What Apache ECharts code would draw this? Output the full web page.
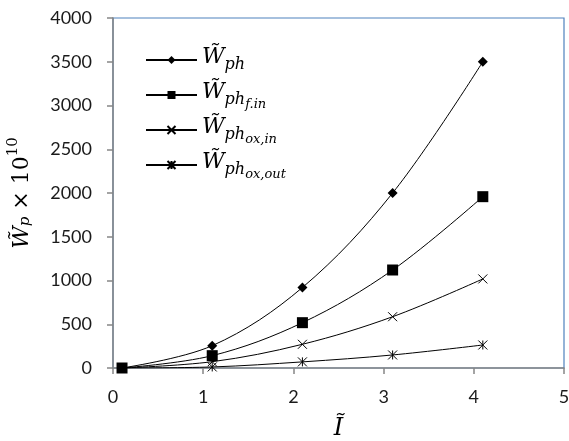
<!DOCTYPE html>
<html>
<head>
<meta charset="utf-8">
<script src="https://cdn.jsdelivr.net/npm/echarts@6/dist/echarts.min.js"></script>
<style>html,body{margin:0;padding:0;background:#fff}#c{width:569px;height:441px}</style>
</head>
<body>
<div id="c"></div>
<script>
const xValues = [0.1, 1.1, 2.1, 3.1, 4.1];
const wph = [0, 255, 920, 2000, 3500];
const wphFin = [0, 141, 518, 1120, 1958];
const wphOxIn = [0, 72, 271, 586, 1018];
const wphOxOut = [0, 12, 70, 149, 263];
const seriesNames = ['Wph', 'WphFin', 'WphOxIn', 'WphOxOut'];
const yTicks = [0, 500, 1000, 1500, 2000, 2500, 3000, 3500, 4000];
const xTicks = [0, 1, 2, 3, 4, 5];

const chart = echarts.init(document.getElementById('c'), null, {renderer: 'canvas'});
const pair = (arr) => xValues.map((x, i) => [x, arr[i]]);
const SERIF = "'DejaVu Serif'";
const crossPath = 'path://M0,0L10,10M10,0L0,10';
const starPath = 'path://M0,0L10,10M10,0L0,10M5,0L5,10';

function mk(name, data, symbol, size, hollow) {
  return {
    name: name,
    type: 'line',
    data: pair(data),
    smooth: 0.35,
    symbol: symbol,
    symbolSize: size,
    showSymbol: true,
    lineStyle: {color: '#000', width: 1},
    itemStyle: hollow ? {color: 'rgba(0,0,0,0)', borderColor: '#000', borderWidth: 1} : {color: '#000', borderWidth: 0},
    emphasis: {disabled: true},
    animation: false
  };
}

const legendText = {
  Wph: '{w|W\u0303}{s|ph}',
  WphFin: '{w|W\u0303}{s|ph}{ss|f.in}',
  WphOxIn: '{w|W\u0303}{s|ph}{ss|ox,in}',
  WphOxOut: '{w|W\u0303}{s|ph}{ss|ox,out}'
};

chart.setOption({
  animation: false,
  grid: {left: 113, right: 5, top: 18, bottom: 73, show: true, borderColor: '#4F81BD', borderWidth: 1.2, outerBoundsMode: 'none', containLabel: false},
  legend: {
    orient: 'vertical',
    left: 140,
    top: 41,
    itemWidth: 51,
    itemHeight: 10,
    itemGap: 5,
    data: seriesNames,
    formatter: (n) => legendText[n],
    textStyle: {
      color: '#000',
      rich: {
        w: {fontFamily: SERIF, fontStyle: 'italic', fontSize: 22, lineHeight: 32, color: '#000', verticalAlign: 'bottom', padding: [0, 0, 8, 0]},
        s: {fontFamily: SERIF, fontStyle: 'italic', fontSize: 16, color: '#000', verticalAlign: 'bottom', padding: [0, 0, 3, 0]},
        ss: {fontFamily: SERIF, fontStyle: 'italic', fontSize: 13, color: '#000', verticalAlign: 'bottom', padding: [0, 0, 0, 0]}
      }
    }
  },
  xAxis: {
    type: 'value',
    min: xTicks[0],
    max: xTicks[xTicks.length - 1],
    interval: 1,
    name: 'I\u0303',
    nameLocation: 'middle',
    nameGap: 49,
    nameTextStyle: {fontFamily: SERIF, fontStyle: 'italic', fontSize: 24, color: '#000'},
    axisLine: {lineStyle: {color: '#868686', width: 1.5}},
    axisTick: {show: true, length: 6, inside: false, lineStyle: {color: '#868686', width: 1.5}},
    axisLabel: {fontFamily: 'Lato', fontSize: 18, color: '#1a1a1a', margin: 20, formatter: (v) => String(v)},
    splitLine: {show: false}
  },
  yAxis: {
    type: 'value',
    min: yTicks[0],
    max: yTicks[yTicks.length - 1],
    interval: 500,
    name: '{w|W\u0303}{s|p}{t| \u00d7 10}{sup|10}',
    nameLocation: 'middle',
    nameGap: 80,
    nameRotate: 90,
    nameTextStyle: {
      rich: {
        w: {fontFamily: SERIF, fontStyle: 'italic', fontSize: 22, color: '#000', verticalAlign: 'bottom', padding: [0, 0, 0, 0]},
        s: {fontFamily: SERIF, fontStyle: 'italic', fontSize: 15, color: '#000', verticalAlign: 'bottom', padding: [0, 0, 0, 0]},
        t: {fontFamily: SERIF, fontSize: 22, color: '#000', verticalAlign: 'bottom', padding: [0, 0, 0, 0]},
        sup: {fontFamily: SERIF, fontSize: 15, color: '#000', verticalAlign: 'bottom', padding: [0, 0, 12, 0]}
      }
    },
    axisLine: {show: true, lineStyle: {color: '#868686', width: 1.5}},
    axisTick: {show: true, length: 6, inside: false, lineStyle: {color: '#868686', width: 1.5}},
    axisLabel: {fontFamily: 'Lato', fontSize: 18, color: '#1a1a1a', margin: 21, formatter: (v) => String(v)},
    splitLine: {show: false}
  },
  series: [
    mk('Wph', wph, 'diamond', 10, false),
    mk('WphFin', wphFin, 'rect', 11, false),
    mk('WphOxIn', wphOxIn, crossPath, 9, true),
    mk('WphOxOut', wphOxOut, starPath, 9, true)
  ]
});
</script>
</body>
</html>
